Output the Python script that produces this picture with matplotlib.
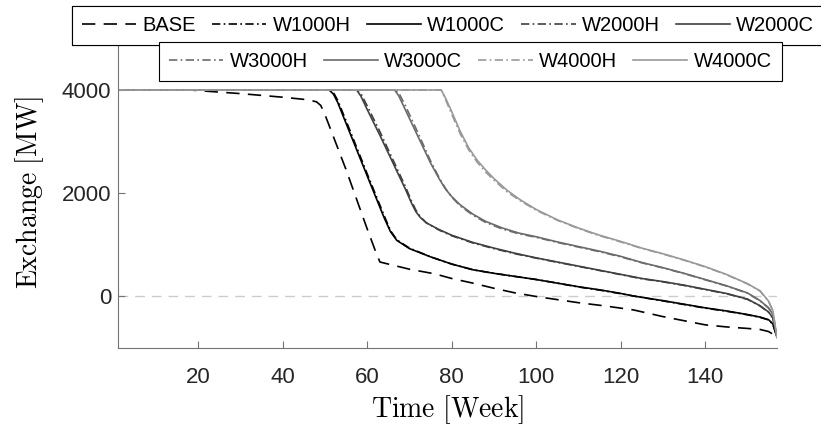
import matplotlib
matplotlib.use('Agg')
import matplotlib.pyplot as plt

plt.rcParams['font.family'] = ['Liberation Sans', 'DejaVu Sans']
plt.rcParams['mathtext.fontset'] = 'cm'

# valores (semana, MW)
base_wk = [1, 18, 30, 40, 46, 48, 49, 50, 55, 60, 62, 63, 66, 70, 76, 80, 85, 90, 95, 100,
           105, 110, 116, 123, 130, 135, 140, 145, 150, 153, 155, 156, 157]
base_mw = [4000, 4000, 3930, 3860, 3810, 3770, 3700, 3520, 2450, 1300, 860, 660, 600, 520, 430,
           340, 250, 150, 60, -10, -70, -130, -190, -270, -400, -480, -560, -600, -630, -650,
           -690, -740, -850]

w1000_wk = [1, 51, 52, 53, 55, 60, 64, 65.5, 67, 70, 75, 80, 85, 90, 95, 100, 105, 110, 115,
            120, 123, 130, 135, 140, 145, 150, 153, 155, 156, 157]
w1000c_mw = [4000, 4000, 3920, 3760, 3350, 2330, 1520, 1250, 1080, 920, 760, 620, 510, 440,
             380, 320, 250, 180, 120, 50, 0, -90, -160, -230, -290, -360, -410, -460, -540, -800]
w1000h_mw = [4000, 4000, 3950, 3800, 3400, 2370, 1560, 1270, 1090, 930, 760, 620, 510, 440,
             380, 320, 250, 175, 115, 45, 0, -95, -165, -235, -295, -365, -415, -465, -545, -800]

w2000_wk = [1, 57.5, 58.5, 60, 63, 66, 69, 70.5, 71.5, 72.5, 74, 77, 80, 85, 90, 95, 100, 105,
            110, 115, 120, 125, 130, 135, 140, 145, 150, 153, 155, 156, 157]
w2000c_mw = [4000, 4000, 3880, 3620, 3120, 2600, 2080, 1800, 1640, 1530, 1420, 1290, 1180, 1040,
             930, 830, 740, 660, 580, 500, 420, 340, 280, 210, 130, 50, -60, -190, -310, -420, -800]
w2000h_mw = [4000, 4000, 3930, 3690, 3190, 2660, 2130, 1840, 1670, 1545, 1420, 1280, 1170, 1030,
             920, 820, 735, 655, 575, 495, 415, 335, 275, 205, 125, 45, -65, -195, -315, -425, -800]

w3000_wk = [1, 66.5, 67.5, 69, 72, 75, 77, 78.5, 80, 82, 85, 88, 92, 96, 100, 105, 110, 115,
            120, 125, 130, 135, 140, 145, 150, 153, 155, 156, 157]
w3000c_mw = [4000, 4000, 3880, 3620, 3100, 2580, 2280, 2080, 1930, 1770, 1590, 1450, 1320, 1220,
             1150, 1050, 960, 870, 770, 650, 550, 440, 320, 200, 60, -90, -230, -350, -800]
w3000h_mw = [4000, 4000, 3940, 3700, 3170, 2620, 2300, 2090, 1920, 1750, 1570, 1430, 1300, 1205,
             1140, 1040, 950, 860, 760, 645, 545, 435, 315, 195, 55, -95, -235, -355, -800]

w4000_wk = [1, 77.5, 78.5, 80, 82, 84, 86, 88, 90, 93, 96, 100, 105, 110, 115, 120, 125, 130,
            135, 140, 145, 150, 153, 155, 156, 157]
w4000c_mw = [4000, 4000, 3850, 3580, 3200, 2880, 2640, 2450, 2280, 2060, 1880, 1680, 1480, 1320,
             1180, 1060, 930, 820, 700, 570, 420, 240, 100, -100, -280, -800]
w4000h_mw = [4000, 4000, 3820, 3530, 3150, 2840, 2600, 2410, 2250, 2030, 1860, 1665, 1470, 1310,
             1170, 1050, 925, 815, 695, 565, 415, 235, 95, -105, -285, -800]

dashdot = (0, (5, 2, 1, 2))
series = [
    ('BASE', base_wk, base_mw, 'black', (0, (8, 5))),
    ('W1000H', w1000_wk, w1000h_mw, 'black', dashdot),
    ('W1000C', w1000_wk, w1000c_mw, 'black', '-'),
    ('W2000H', w2000_wk, w2000h_mw, '0.25', dashdot),
    ('W2000C', w2000_wk, w2000c_mw, '0.25', '-'),
    ('W3000H', w3000_wk, w3000h_mw, '0.42', dashdot),
    ('W3000C', w3000_wk, w3000c_mw, '0.42', '-'),
    ('W4000H', w4000_wk, w4000h_mw, '0.6', dashdot),
    ('W4000C', w4000_wk, w4000c_mw, '0.6', '-'),
]

fig = plt.figure(figsize=(8.21, 4.28), dpi=100)
ax = fig.add_axes([118/821, 1 - 347.5/428, 659/821, 309/428])

ax.axhline(0, color='0.8', lw=1, ls=(0, (7, 5)), zorder=0)

linhas = []
for nome, wk, mw, cor, estilo in series:
    l, = ax.plot(wk, mw, color=cor, ls=estilo, lw=1.2, label=nome)
    linhas.append(l)

ax.set_xlim(1, 157)
ax.set_ylim(-1000, 5000)
ax.set_xticks([20, 40, 60, 80, 100, 120, 140])
ax.set_yticks([0, 2000, 4000])
for lado in ['top', 'right']:
    ax.spines[lado].set_visible(False)
for lado in ['left', 'bottom']:
    ax.spines[lado].set_color('0.45')
ax.tick_params(direction='in', length=5, color='0.45', labelcolor='0.15', labelsize=16)
ax.tick_params(axis='x', pad=14)
ax.tick_params(axis='y', pad=5)

ax.set_xlabel(r'$\mathrm{Time\ [Week]}$', fontsize=20, labelpad=4)
ax.set_ylabel(r'$\mathrm{Exchange\ [MW]}$', fontsize=20, labelpad=11)

estilo_leg = dict(fontsize=14.5, frameon=True, fancybox=False, edgecolor='black', framealpha=1,
                  handlelength=2.7, handletextpad=0.3, columnspacing=0.8, borderpad=0.5,
                  borderaxespad=0, loc='upper left')
leg1 = fig.legend(handles=linhas[:5], ncol=5, bbox_to_anchor=(72/821, 1 - 6/428), **estilo_leg)
leg2 = fig.legend(handles=linhas[5:], ncol=4, bbox_to_anchor=(159/821, 1 - 42/428), **estilo_leg)
fig.add_artist(leg1)
leg1.get_frame().set_linewidth(0.8)
leg2.get_frame().set_linewidth(0.8)

fig.savefig('out.png', dpi=100)
